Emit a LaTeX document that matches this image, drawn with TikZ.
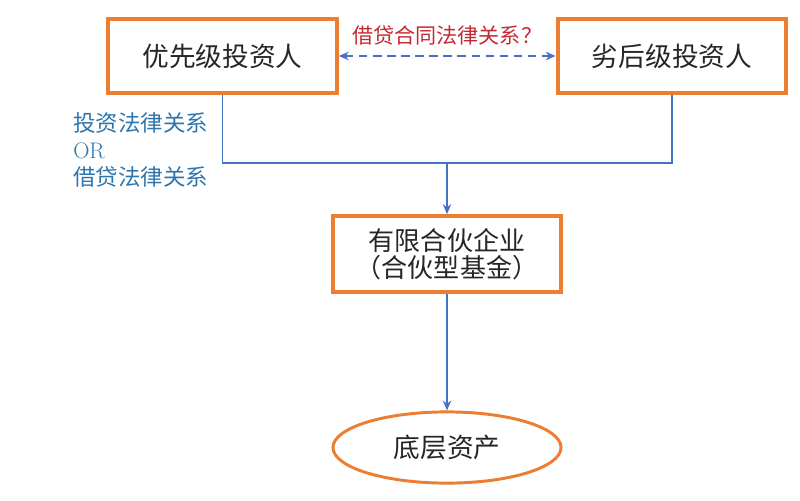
\documentclass[tikz,border=0pt]{standalone}
\usepackage{fontspec}
\newfontfamily\cjk{Noto Sans CJK SC}
\usetikzlibrary{arrows.meta, positioning, shapes.geometric}
\definecolor{boxorange}{RGB}{237,125,49}
\definecolor{lineblue}{RGB}{68,114,196}
\definecolor{labelblue}{RGB}{46,117,172}
\definecolor{labelred}{RGB}{196,40,50}

\tikzset{
  party/.style={draw=boxorange, line width=2.8pt, minimum width=5.72cm, minimum height=1.85cm, font=\cjk\fontsize{19}{22}\selectfont, text=black!85},
  link/.style={draw=lineblue, line width=1.1pt},
  flow/.style={link, -{Stealth[length=7pt, width=6pt]}},
}

\begin{document}
\begin{tikzpicture}[x=0.025cm, y=-0.025cm]
  \useasboundingbox (0,0) rectangle (800,500);

  % Investors
  \node[party] (senior) at (222.5,56) {优先级投资人};
  \node[party] (junior) at (672,56) {劣后级投资人};
  \draw[link, dashed, dash pattern=on 6pt off 4pt, {Stealth[length=7pt, width=6pt]}-{Stealth[length=7pt, width=6pt]}] (senior.east) -- (junior.west)
    node[midway, above=4pt, text=labelred, font=\cjk\fontsize{15}{18}\selectfont] (loan) {借贷合同法律关系？};

  % Fund
  \node[party, minimum width=5.7cm, minimum height=1.9cm, align=center, font=\cjk\fontsize{18.5}{19.6}\selectfont] (fund) at (447,254) {有限合伙企业\\（合伙型基金）};
  \coordinate (join) at (447,163);
  \draw[link] (senior.south) |- (join) -| (junior.south);
  \draw[flow] (join) -- (fund.north);
  \node[anchor=west, align=left, inner sep=0pt, text=labelblue, font=\cjk\fontsize{16}{19.5}\selectfont] (relation) at (73,150) {投资法律关系\\{\rmfamily OR}\\借贷法律关系};

  % Asset
  \node[ellipse, draw=boxorange, line width=2.1pt, minimum width=5.7cm, minimum height=1.78cm, font=\cjk\fontsize{19}{22}\selectfont, text=black!85] (asset) at (447,447.5) {底层资产};
  \draw[flow] (fund.south) -- (asset.north);
\end{tikzpicture}
\end{document}
